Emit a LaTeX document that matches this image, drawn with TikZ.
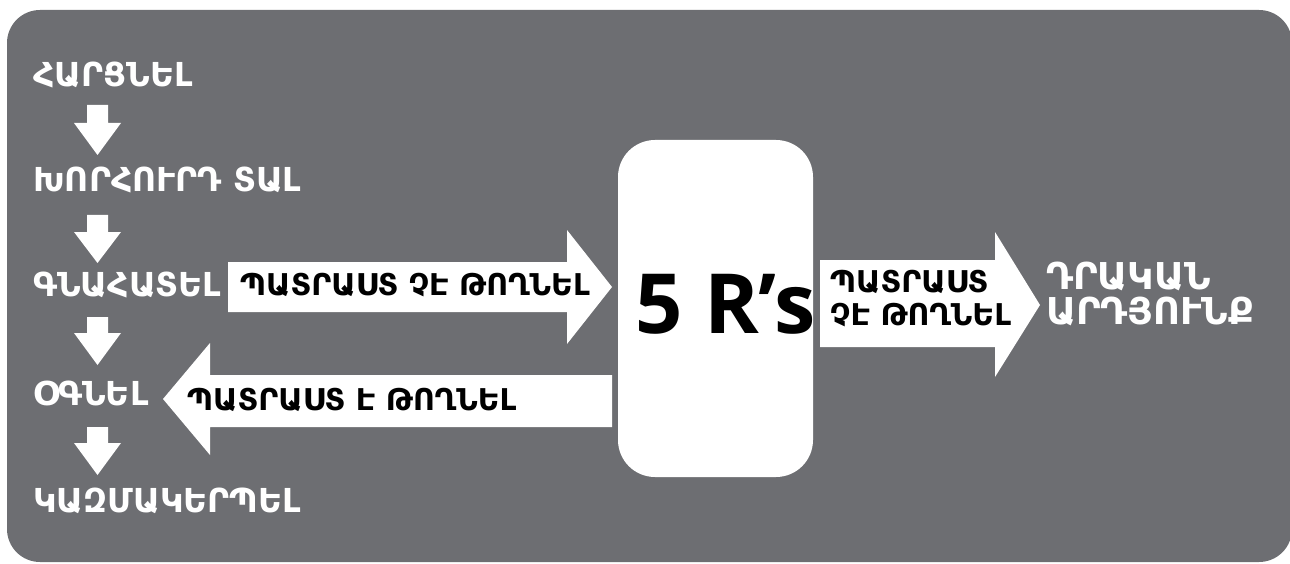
\documentclass[tikz,border=0pt]{standalone}
\usepackage{fontspec}
\newfontfamily\armfont{DejaVu Sans}
\newfontfamily\rfont{Open Sans}
\definecolor{panel}{RGB}{109,110,114}
\begin{document}
\begin{tikzpicture}[x=1pt,y=-1pt,
  steptext/.style={anchor=base west,inner sep=0pt,text=white,font=\armfont\bfseries\fontsize{33}{36}\selectfont},
  arrowtext/.style={anchor=base west,inner sep=0pt,text=black,font=\armfont\bfseries\fontsize{30}{34}\selectfont},
  resulttext/.style={anchor=base west,inner sep=0pt,text=white,font=\armfont\bfseries\fontsize{37}{40}\selectfont},
  blockarrow/.style={fill=white,draw=none}]
\useasboundingbox (0,0) rectangle (1290,564);
% panel
\fill[panel,rounded corners=33pt] (7,10) rectangle (1292,562);

% steps on the left
\node[steptext] (ask)    at (33,87)  {ՀԱՐՑՆԵԼ};
\node[steptext] (advise) at (33,192) {ԽՈՐՀՈՒՐԴ ՏԱԼ};
\node[steptext] (assess) at (33,296) {ԳՆԱՀԱՏԵԼ};
\node[steptext] (help)   at (33,405) {ՕԳՆԵԼ};
\node[steptext] (organize) at (33,512) {ԿԱԶՄԱԿԵՐՊԵԼ};

% down arrows between the steps
\foreach \t/\h/\b in {105/123/155, 215/232/263, 317/333/365, 427/443/475}{
  \fill[blockarrow] (87,\t) -- (108,\t) -- (108,\h) -- (121,\h) -- (97.5,\b)
    -- (74,\h) -- (87,\h) -- cycle;
}

% central box
\fill[white,rounded corners=37pt] (618,140) rectangle (813,477);
\node[anchor=base west,inner sep=0pt,font=\rfont\bfseries\fontsize{83}{86}\selectfont] (fiveR) at (635,333) {5 R’s};

% arrow into the box
\fill[blockarrow] (228,262) -- (567,262) -- (567,230) -- (612,287) -- (567,344)
  -- (567,312) -- (228,312) -- cycle;
\node[arrowtext] (notready) at (240,295) {ՊԱՏՐԱՍՏ ՉԷ ԹՈՂՆԵԼ};

% arrow back to the steps
\fill[blockarrow] (612,375) -- (210,375) -- (210,343) -- (163,399) -- (210,455)
  -- (210,427) -- (612,427) -- cycle;
\node[arrowtext] (ready) at (187,410) {ՊԱՏՐԱՍՏ Է ԹՈՂՆԵԼ};

% arrow out of the box
\fill[blockarrow] (820,260) -- (995,260) -- (995,232) -- (1040,305) -- (995,377)
  -- (995,347) -- (820,347) -- cycle;
\node[arrowtext] (notreadyA) at (830,292) {ՊԱՏՐԱՍՏ};
\node[arrowtext] (notreadyB) at (830,325) {ՉԷ ԹՈՂՆԵԼ};

% outcome
\node[resulttext] (resultA) at (1046,289) {ԴՐԱԿԱՆ};
\node[resulttext] (resultB) at (1046,324) {ԱՐԴՅՈՒՆՔ};
\end{tikzpicture}
\end{document}
